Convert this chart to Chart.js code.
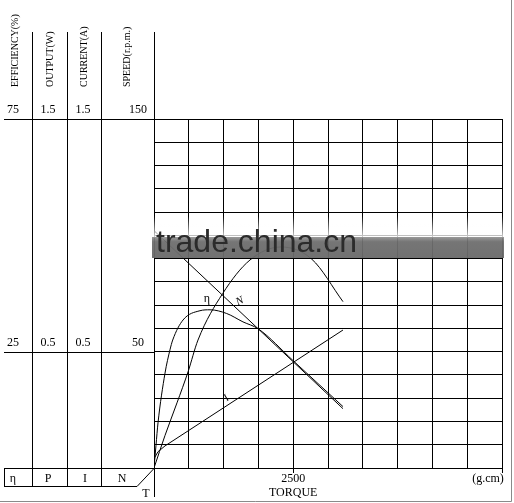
<!DOCTYPE html>
<html>
<head>
<meta charset="utf-8">
<script src="https://cdn.jsdelivr.net/npm/chart.js@4/dist/chart.umd.min.js"></script>
<style>
  html, body { margin: 0; padding: 0; background: #fff; }
  canvas { display: block; }
</style>
</head>
<body>
<canvas id="motorChart" width="514" height="503"></canvas>
<script>
// values (torque in g.cm)
const axisTitles = ['EFFICIENCY(%)', 'OUTPUT(W)', 'CURRENT(A)', 'SPEED(r.p.m.)'];
const effTicks = [75, 25];
const outTicks = [1.5, 0.5];
const curTicks = [1.5, 0.5];
const speedTicks = [150, 50];
const seriesSymbols = ['η', 'P', 'I', 'N'];
const torqueTicks = [2500];

const speedTorque = [0, 3394];
const speedRpm = [102, 25.5];

const effTorque = [0, 36, 72, 198, 287, 336, 521, 826, 1006, 1306, 1598, 1873, 2496, 3394];
const effPct = [0, 4.9, 9.7, 20.4, 25.4, 27.5, 31.8, 33.8, 34.0, 33.2, 31.4, 29.9, 23.1, 13.2];

const outTorque = [0, 198, 413, 611, 790, 1234, 1724, 2281, 2832, 3394];
const outW = [0, 0.14, 0.28, 0.413, 0.55, 0.75, 0.894, 0.95, 0.898, 0.715];

const curTorque = [0, 72, 198, 3394];
const curA = [0.04, 0.07, 0.095, 0.593];

const pts = (xs, ys) => xs.map((x, i) => ({ x: x, y: ys[i] }));

const serif = '"Liberation Serif", "DejaVu Serif", serif';

const panelPlugin = {
  id: 'panel',
  afterDatasetsDraw(chart) {
    const { ctx, chartArea: a, scales } = chart;
    const L = a.left, B = a.bottom;
    const line = (x1, y1, x2, y2) => { ctx.beginPath(); ctx.moveTo(x1, y1); ctx.lineTo(x2, y2); ctx.stroke(); };
    ctx.save();
    ctx.strokeStyle = '#000';
    ctx.lineWidth = 1;

    const yTop = Math.round(scales.y.getPixelForValue(speedTicks[0])) + 0.5;
    const yMid = Math.round(scales.y.getPixelForValue(speedTicks[1])) + 0.5;
    const yB = Math.round(B) + 0.5;
    const boxB = yB + 18;

    // left table lines
    line(4, yTop, L, yTop);
    line(4, yMid, L, yMid);
    line(4, yB, L, yB);
    line(4, boxB, 137, boxB);
    line(137, boxB, L, yB);
    line(4.5, yB, 4.5, boxB);
    [32.5, 67.5, 101.5].forEach(x => line(x, 32, x, boxB));
    line(Math.round(L) + 0.5, 32, Math.round(L) + 0.5, a.top);
    line(Math.round(L) + 0.5, B, Math.round(L) + 0.5, B + 29);
    // small ticks under the torque axis
    torqueTicks.concat([scales.x.max]).forEach(v => {
      const x = Math.round(scales.x.getPixelForValue(v)) + 0.5;
      line(x, B, x, B + 5);
    });

    ctx.fillStyle = '#000';
    // rotated column titles, read bottom to top
    ctx.font = '10px ' + serif;
    ctx.textAlign = 'left';
    ctx.textBaseline = 'middle';
    [15, 50, 84, 127].forEach((x, i) => {
      ctx.save();
      ctx.translate(x, 87);
      ctx.rotate(-Math.PI / 2);
      ctx.fillText(axisTitles[i], 0, 0);
      ctx.restore();
    });

    // scale values
    ctx.font = '12px ' + serif;
    ctx.textAlign = 'center';
    ctx.textBaseline = 'alphabetic';
    const cols = [
      { x: 13, ticks: effTicks, s: scales.yEff, f: v => String(v) },
      { x: 48, ticks: outTicks, s: scales.yOut, f: v => v.toFixed(1) },
      { x: 83, ticks: curTicks, s: scales.yCur, f: v => v.toFixed(1) },
      { x: 138, ticks: speedTicks, s: scales.y, f: v => String(v) }
    ];
    cols.forEach(c => c.ticks.forEach(v => {
      ctx.fillText(c.f(v), c.x, c.s.getPixelForValue(v) - 6);
    }));

    // symbol row
    [13, 48, 85, 122].forEach((x, i) => ctx.fillText(seriesSymbols[i], x, B + 14));
    ctx.fillText('T', 146, B + 29);

    // torque axis text
    torqueTicks.forEach(v => ctx.fillText(String(v), scales.x.getPixelForValue(v), B + 14));
    ctx.fillText('TORQUE', scales.x.getPixelForValue(torqueTicks[0]), B + 28);
    ctx.fillText('(g.cm)', 488, B + 14);

    // curve labels
    const px = t => scales.x.getPixelForValue(t);
    const py = r => scales.y.getPixelForValue(r);
    ctx.font = '12px ' + serif;
    ctx.fillText('η', px(952), py(71.5));
    ctx.save();
    ctx.translate(px(1563), py(70.5));
    ctx.rotate(-0.45);
    ctx.font = 'italic 11px ' + serif;
    ctx.fillText('N', 0, 0);
    ctx.restore();
    ctx.save();
    ctx.translate(px(1329), py(29));
    ctx.rotate(-0.55);
    ctx.font = '11px ' + serif;
    ctx.fillText('I', 0, 0);
    ctx.restore();

    ctx.restore();
  },
  afterDraw(chart) {
    const { ctx } = chart;
    ctx.save();
    // site watermark band
    const fade = ctx.createLinearGradient(0, 216, 0, 238);
    fade.addColorStop(0, 'rgba(255,255,255,0)');
    fade.addColorStop(1, 'rgba(255,255,255,0.85)');
    ctx.fillStyle = fade;
    ctx.fillRect(150, 216, 358, 22);
    const band = ctx.createLinearGradient(0, 236, 0, 259);
    band.addColorStop(0, 'rgba(150,150,150,0.9)');
    band.addColorStop(0.25, 'rgba(110,110,110,0.95)');
    band.addColorStop(1, 'rgba(105,105,105,0.95)');
    ctx.fillStyle = band;
    ctx.fillRect(152, 237, 352, 21);
    ctx.fillStyle = '#2b2b2b';
    ctx.font = '32px "Liberation Sans", Arial, sans-serif';
    ctx.textAlign = 'left';
    ctx.textBaseline = 'alphabetic';
    ctx.fillText('trade.china.cn', 156, 252);
    // picture frame
    ctx.strokeStyle = '#8a8a8a';
    ctx.lineWidth = 1;
    ctx.beginPath();
    ctx.moveTo(511.5, 0); ctx.lineTo(511.5, 501.5); ctx.lineTo(0, 501.5);
    ctx.stroke();
    ctx.restore();
  }
};

const lineStyle = { borderColor: '#000', borderWidth: 1, pointRadius: 0, fill: false };

new Chart(document.getElementById('motorChart'), {
  type: 'line',
  data: {
    datasets: [
      Object.assign({ label: 'N', data: pts(speedTorque, speedRpm), yAxisID: 'y', tension: 0 }, lineStyle),
      Object.assign({ label: 'η', data: pts(effTorque, effPct), yAxisID: 'yEff', cubicInterpolationMode: 'monotone' }, lineStyle),
      Object.assign({ label: 'P', data: pts(outTorque, outW), yAxisID: 'yOut', cubicInterpolationMode: 'monotone' }, lineStyle),
      Object.assign({ label: 'I', data: pts(curTorque, curA), yAxisID: 'yCur', tension: 0 }, lineStyle)
    ]
  },
  options: {
    responsive: false,
    animation: false,
    layout: { padding: { left: 154, right: 12, top: 119, bottom: 35 } },
    plugins: { legend: { display: false }, tooltip: { enabled: false } },
    scales: {
      x: {
        type: 'linear', min: 0, max: 6250,
        ticks: { display: false, stepSize: 625 },
        grid: { color: '#000', lineWidth: 1, drawTicks: false },
        border: { color: '#000', width: 1 }
      },
      y: {
        type: 'linear', min: 0, max: 150,
        ticks: { display: false, stepSize: 10 },
        grid: { color: '#000', lineWidth: 1, drawTicks: false },
        border: { color: '#000', width: 1 }
      },
      yEff: { type: 'linear', display: false, min: 0, max: 75 },
      yOut: { type: 'linear', display: false, min: 0, max: 1.5 },
      yCur: { type: 'linear', display: false, min: 0, max: 1.5 }
    }
  },
  plugins: [panelPlugin]
});
</script>
</body>
</html>
